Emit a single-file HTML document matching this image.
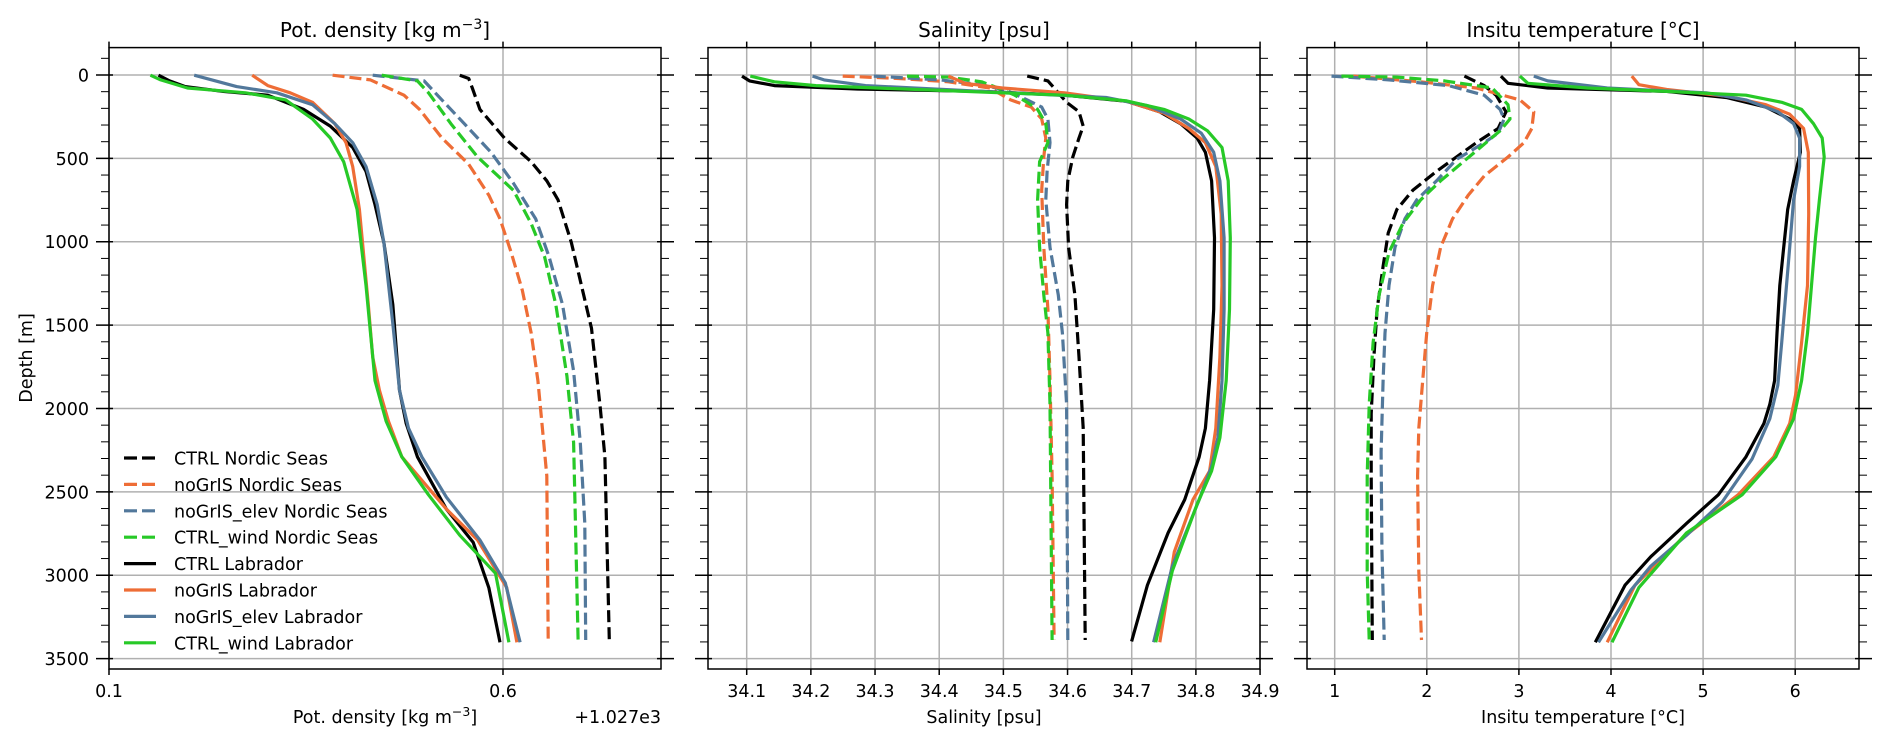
<!DOCTYPE html>
<html><head><meta charset="utf-8"><style>
html,body{margin:0;padding:0;background:#fff}
svg{display:block}
text{font-family:"DejaVu Sans","Liberation Sans",sans-serif;fill:#000}
</style></head><body>
<svg id="s" width="1892" height="746" xmlns="http://www.w3.org/2000/svg">
<text x="385" y="37" font-size="20" text-anchor="middle">Pot. density [kg m<tspan dy="-8" font-size="14">−3</tspan><tspan dy="8">]</tspan></text>
<text x="984" y="37" font-size="20" text-anchor="middle">Salinity [psu]</text>
<text x="1583" y="37" font-size="20" text-anchor="middle">Insitu temperature [°C]</text>
<text x="385" y="723" font-size="17.5" text-anchor="middle">Pot. density [kg m<tspan dy="-7" font-size="12.5">−3</tspan><tspan dy="7">]</tspan></text>
<text x="661" y="723" font-size="17.5" text-anchor="end">+1.027e3</text>
<text x="984" y="723" font-size="17.5" text-anchor="middle">Salinity [psu]</text>
<text x="1583" y="723" font-size="17.5" text-anchor="middle">Insitu temperature [°C]</text>
<text transform="translate(32,358) rotate(-90)" font-size="17.5" text-anchor="middle">Depth [m]</text>
<g id="g"></g>
</svg>
<script>
var NS="http://www.w3.org/2000/svg",G=document.getElementById('g');
function el(t,a,txt){var e=document.createElementNS(NS,t);for(var k in a)e.setAttribute(k,a[k]);if(txt!==undefined)e.textContent=txt;G.appendChild(e);return e;}
var TOPY=47.6,BOTY=669;
function yd(d){return 75+d*0.16674;}
var panels=[
 {l:109,r:661,ox:0,sx:0.4464,xt:[[109,'0.1'],[503,'0.6']]},
 {l:708,r:1260,ox:650,sx:0.4145,xt:[]},
 {l:1307,r:1859,ox:1270,sx:0.3967,xt:[]}
];
for(var k=0;k<9;k++)panels[1].xt.push([746.7+k*64.17,(34.1+k*0.1).toFixed(1)]);
for(var k=1;k<=6;k++)panels[2].xt.push([1334.7+(k-1)*92.1,''+k]);
panels.forEach(function(p,pi){
 p.xt.forEach(function(t){el('line',{x1:t[0],x2:t[0],y1:TOPY,y2:BOTY,stroke:'#b0b0b0','stroke-width':1.5});});
 for(var d=0;d<=3500;d+=500)el('line',{x1:p.l,x2:p.r,y1:yd(d),y2:yd(d),stroke:'#b0b0b0','stroke-width':1.5});
});
var C={k:'#000',o:'#ee6d36',b:'#52789b',g:'#27c927'};
var data=[
[0,'k',1,[1030,158,1050,165,1058,185,1075,230,1130,290,1190,340,1225,380,1250,420,1280,510,1310,630,1325,690,1345,860,1355,960,1365,1345]],
[0,'o',1,[745,158,830,168,905,200,940,230,990,290,1050,345,1095,410,1120,460,1145,530,1170,610,1190,700,1205,800,1215,900,1225,1000,1228,1345]],
[0,'b',1,[835,158,950,170,975,195,1040,260,1100,320,1150,385,1200,460,1230,540,1260,640,1285,780,1300,930,1310,1100,1312,1345]],
[0,'g',1,[855,158,935,170,960,195,1010,260,1070,330,1150,400,1190,470,1220,540,1245,640,1270,790,1285,930,1295,1345]],
[0,'k',0,[355,158,380,170,415,182,500,192,600,200,680,230,740,265,790,310,820,360,840,430,860,510,880,640,895,820,910,890,935,960,1000,1070,1060,1140,1095,1235,1120,1350]],
[0,'o',0,[565,158,600,180,650,195,700,215,750,260,775,300,790,350,805,440,825,640,835,750,850,820,870,885,900,960,1000,1070,1070,1135,1135,1235,1158,1350]],
[0,'b',0,[435,158,530,182,620,195,700,220,750,260,790,300,820,350,845,430,860,510,880,680,895,820,915,900,945,960,1000,1045,1075,1135,1132,1225,1165,1350]],
[0,'g',0,[337,158,360,168,420,185,550,195,640,210,700,250,740,290,770,340,800,440,820,600,830,700,840,800,865,885,900,960,960,1040,1030,1125,1110,1205,1140,1350]],
[1,'k',1,[910,160,960,170,985,195,1005,215,1035,235,1045,265,1035,290,1020,330,1008,380,1005,430,1010,520,1025,620,1035,750,1045,900,1050,1345]],
[1,'o',1,[465,160,600,165,720,172,820,185,870,210,920,225,945,250,955,290,950,330,945,400,950,520,960,650,965,800,970,1000,975,1345]],
[1,'b',1,[540,160,700,168,800,178,860,190,910,210,945,225,960,250,965,300,958,360,955,420,965,520,985,620,995,700,1005,850,1008,1345]],
[1,'g',1,[620,160,720,162,800,172,840,185,880,200,910,215,935,230,955,260,960,300,940,340,935,420,940,520,950,620,960,700,965,850,970,1345]],
[1,'k',0,[222,160,240,170,300,180,500,187,800,192,1000,200,1150,213,1230,235,1280,260,1320,290,1340,320,1355,380,1362,500,1360,650,1350,800,1340,900,1325,960,1290,1050,1250,1120,1200,1230,1162,1348]],
[1,'o',0,[720,160,760,175,850,185,1000,195,1150,213,1240,238,1300,270,1340,300,1365,350,1378,450,1380,600,1375,750,1365,900,1350,990,1310,1050,1265,1160,1230,1350]],
[1,'b',0,[392,160,420,168,520,180,800,192,1100,205,1200,222,1280,250,1330,280,1360,320,1375,380,1385,500,1385,650,1380,800,1370,920,1355,980,1325,1050,1260,1190,1215,1350]],
[1,'g',0,[242,160,300,172,400,180,700,190,1000,200,1150,212,1240,230,1300,250,1345,275,1380,310,1395,380,1400,500,1398,650,1390,800,1375,920,1355,990,1320,1060,1260,1200,1220,1350]],
[2,'k',1,[490,160,540,180,570,200,595,235,575,270,520,300,470,330,420,360,360,400,320,440,298,490,285,560,270,650,262,750,255,870,255,1000,258,1345]],
[2,'o',1,[210,160,380,172,520,185,630,210,665,235,660,270,640,300,600,330,540,370,500,410,460,460,430,520,410,600,395,700,385,800,375,900,372,1000,375,1200,382,1345]],
[2,'b',1,[155,160,300,168,450,180,540,200,580,230,590,250,575,280,540,300,470,335,420,380,370,420,340,460,315,520,300,600,290,700,285,800,280,950,282,1150,288,1345]],
[2,'g',1,[180,160,320,162,440,170,560,185,600,220,605,250,580,275,530,310,430,380,380,420,335,470,300,530,275,620,260,720,250,850,245,1000,245,1200,250,1345]],
[2,'k',0,[582,160,600,175,700,185,1000,192,1150,205,1250,225,1310,250,1335,270,1337,320,1320,380,1305,440,1295,520,1285,600,1278,700,1272,800,1260,850,1245,890,1200,960,1130,1040,1050,1100,960,1170,895,1230,820,1350]],
[2,'o',0,[912,160,930,178,1000,188,1150,202,1250,220,1310,240,1345,270,1357,320,1358,450,1355,600,1340,720,1325,830,1310,890,1270,960,1180,1040,1040,1130,920,1230,850,1350]],
[2,'b',0,[665,160,700,170,850,185,1100,195,1200,210,1280,235,1320,260,1335,290,1335,350,1320,420,1310,520,1300,620,1290,720,1280,810,1260,880,1215,965,1140,1055,1050,1125,960,1190,910,1240,828,1350]],
[2,'g',0,[630,160,650,175,800,185,1000,192,1200,200,1290,215,1340,230,1370,260,1392,290,1397,330,1385,420,1375,500,1365,600,1355,700,1340,800,1320,880,1275,960,1190,1040,1050,1120,930,1235,862,1350]]
];
data.forEach(function(s){
 var p=panels[s[0]],a=s[3],pts=[];
 for(var i=0;i<a.length;i+=2)pts.push((p.ox+a[i]*p.sx).toFixed(1)+','+(a[i+1]*0.4758).toFixed(1));
 var at={points:pts.join(' '),fill:'none',stroke:C[s[1]],'stroke-width':3.2,'stroke-linejoin':'round'};
 if(s[2])at['stroke-dasharray']='12,5';
 el('polyline',at);
});
panels.forEach(function(p,pi){
 el('rect',{x:p.l,y:TOPY,width:p.r-p.l,height:BOTY-TOPY,fill:'none',stroke:'#000','stroke-width':1.5});
 p.xt.forEach(function(t){
  el('line',{x1:t[0],x2:t[0],y1:TOPY-6,y2:TOPY,stroke:'#000','stroke-width':1.5});
  el('line',{x1:t[0],x2:t[0],y1:BOTY,y2:BOTY+6,stroke:'#000','stroke-width':1.5});
  el('text',{x:t[0],y:697,'font-size':17.5,'text-anchor':'middle'},t[1]);
 });
 for(var d=-100;d<=3500;d+=100){
  var y=yd(d),maj=(d%500==0);
  if(maj){
   el('line',{x1:p.l-13,x2:p.l+4,y1:y,y2:y,stroke:'#000','stroke-width':1.5});
   el('line',{x1:p.r-4,x2:p.r+13,y1:y,y2:y,stroke:'#000','stroke-width':1.5});
   if(pi==0)el('text',{x:89,y:y+6.5,'font-size':17.5,'text-anchor':'end'},''+d);
  }else{
   el('line',{x1:p.l-8,x2:p.l,y1:y,y2:y,stroke:'#000','stroke-width':1});
   el('line',{x1:p.r,x2:p.r+8,y1:y,y2:y,stroke:'#000','stroke-width':1});
  }
 }
});
var leg=[['k',1,'CTRL Nordic Seas'],['o',1,'noGrIS Nordic Seas'],['b',1,'noGrIS_elev Nordic Seas'],['g',1,'CTRL_wind Nordic Seas'],['k',0,'CTRL Labrador'],['o',0,'noGrIS Labrador'],['b',0,'noGrIS_elev Labrador'],['g',0,'CTRL_wind Labrador']];
leg.forEach(function(l,i){
 var y=458+i*26.4;
 var at={x1:124,x2:156,y1:y,y2:y,stroke:C[l[0]],'stroke-width':3.2};
 if(l[1])at['stroke-dasharray']='13,5';
 el('line',at);
 el('text',{x:174,y:y+6.5,'font-size':17.5},l[2]);
});
</script>
</body></html>
